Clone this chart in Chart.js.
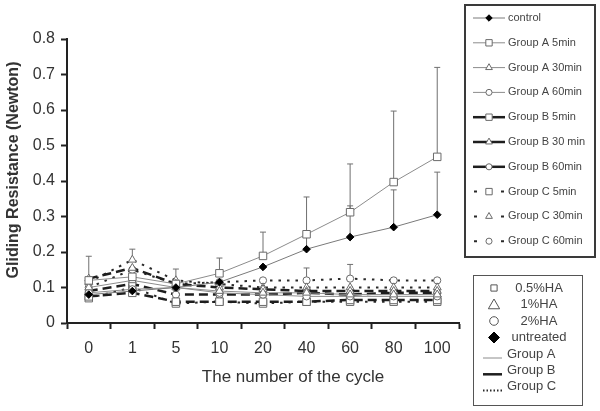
<!DOCTYPE html>
<html lang="en">
<head>
  <meta charset="UTF-8">
  <title>Gliding Resistance</title>
  <script src="https://cdn.jsdelivr.net/npm/chart.js"></script>
  <style>
    body { margin: 0; background: #fff; }
    #wrap { width: 600px; height: 411px; }
  </style>
</head>
<body>
<div id="wrap"><canvas id="chart" width="600" height="411"></canvas></div>
<script>
  // x categories (number of cycles)
  const cycles = ['0', '1', '5', '10', '20', '40', '60', '80', '100'];

  // series values (Newton)
  const control  = [0.080, 0.090, 0.100, 0.115, 0.158, 0.208, 0.242, 0.270, 0.305];
  const groupA5  = [0.120, 0.130, 0.110, 0.140, 0.189, 0.250, 0.312, 0.397, 0.468];
  const groupA30 = [0.100, 0.120, 0.100, 0.090, 0.085, 0.085, 0.080, 0.080, 0.080];
  const groupA60 = [0.085, 0.095, 0.100, 0.085, 0.080, 0.075, 0.075, 0.075, 0.075];
  const groupB5  = [0.075, 0.085, 0.060, 0.060, 0.060, 0.060, 0.065, 0.065, 0.065];
  const groupB30 = [0.125, 0.155, 0.110, 0.100, 0.095, 0.090, 0.090, 0.090, 0.090];
  const groupB60 = [0.090, 0.110, 0.080, 0.080, 0.080, 0.085, 0.080, 0.085, 0.085];
  const groupC5  = [0.070, 0.100, 0.055, 0.060, 0.055, 0.060, 0.060, 0.060, 0.060];
  const groupC30 = [0.115, 0.178, 0.120, 0.110, 0.100, 0.100, 0.100, 0.100, 0.100];
  const groupC60 = [0.100, 0.150, 0.110, 0.115, 0.120, 0.120, 0.125, 0.120, 0.120];

  // upper error bars (SD)
  const controlErr  = [0, 0, 0, 0, 0, 0.050, 0.088, 0.105, 0.120];
  const groupA5Err  = [0.068, 0, 0, 0.043, 0.067, 0.105, 0.136, 0.200, 0.252];
  const groupC30Err = [0, 0.030, 0.032, 0, 0, 0, 0, 0, 0];
  const groupC60Err = [0, 0, 0, 0, 0, 0.035, 0.040, 0, 0];

  const seriesNames = ['control', 'Group A 5min', 'Group A 30min', 'Group A 60min',
    'Group B 5min', 'Group B 30 min', 'Group B 60min',
    'Group C 5min', 'Group C 30min', 'Group C 60min'];

  // second legend
  const haLabels = ['0.5%HA', '1%HA', '2%HA', 'untreated'];
  const haMarkers = ['rect', 'triangle', 'circle', 'rectRot'];
  const groupLabels = ['Group A', 'Group B', 'Group C'];

  const FONT = 'Arial, "Liberation Sans", sans-serif';
  Chart.defaults.font.family = FONT;

  const lineStyle = {
    ctrl: { borderColor: '#7a7a7a', borderWidth: 1, borderDash: [] },
    A: { borderColor: '#8c8c8c', borderWidth: 1, borderDash: [] },
    B: { borderColor: '#1e1e1e', borderWidth: 2.5, borderDash: [9, 5] },
    C: { borderColor: '#2a2a2a', borderWidth: 2, borderDash: [2.5, 6] }
  };
  const markerRadius = { rect: 5.3, triangle: 4.6, circle: 3.6, rectRot: 3.8 };

  function series(i, data, group, shape, err) {
    const st = lineStyle[group];
    return {
      label: seriesNames[i],
      group: group,
      data: data,
      err: err,
      borderColor: st.borderColor,
      borderWidth: st.borderWidth,
      borderDash: st.borderDash,
      pointStyle: shape,
      pointRadius: markerRadius[shape],
      pointBackgroundColor: shape === 'rectRot' ? '#000' : '#fff',
      pointBorderColor: shape === 'rectRot' ? '#000' : '#6a6a6a',
      pointBorderWidth: 1,
      tension: 0,
      fill: false
    };
  }

  function drawMarker(ctx, shape, x, y, r, fill, stroke) {
    ctx.beginPath();
    if (shape === 'rect') {
      const s = r * Math.SQRT1_2;
      ctx.rect(x - s, y - s, 2 * s, 2 * s);
    } else if (shape === 'rectRot') {
      ctx.moveTo(x, y - r); ctx.lineTo(x + r, y); ctx.lineTo(x, y + r); ctx.lineTo(x - r, y);
      ctx.closePath();
    } else if (shape === 'triangle') {
      let a = 0;
      ctx.moveTo(x + Math.sin(a) * r, y - Math.cos(a) * r);
      a += 2 * Math.PI / 3;
      ctx.lineTo(x + Math.sin(a) * r, y - Math.cos(a) * r);
      a += 2 * Math.PI / 3;
      ctx.lineTo(x + Math.sin(a) * r, y - Math.cos(a) * r);
      ctx.closePath();
    } else {
      ctx.arc(x, y, r, 0, Math.PI * 2);
    }
    ctx.fillStyle = fill; ctx.fill();
    ctx.strokeStyle = stroke; ctx.lineWidth = 1; ctx.setLineDash([]); ctx.stroke();
  }

  const errorBars = {
    id: 'errorBars',
    beforeDatasetsDraw(chart) {
      const ctx = chart.ctx, y = chart.scales.y;
      ctx.save();
      ctx.strokeStyle = '#707070';
      ctx.lineWidth = 1;
      chart.data.datasets.forEach((ds, i) => {
        if (!ds.err) return;
        const meta = chart.getDatasetMeta(i);
        ds.err.forEach((e, j) => {
          if (!e) return;
          const p = meta.data[j];
          const top = y.getPixelForValue(ds.data[j] + e);
          ctx.beginPath();
          ctx.moveTo(p.x, p.y); ctx.lineTo(p.x, top);
          ctx.moveTo(p.x - 3, top); ctx.lineTo(p.x + 3, top);
          ctx.stroke();
        });
      });
      ctx.restore();
    }
  };

  const extras = {
    id: 'extras',
    afterDraw(chart) {
      const ctx = chart.ctx, area = chart.chartArea;
      ctx.save();

      // axis titles
      ctx.fillStyle = '#333';
      ctx.textAlign = 'center';
      ctx.textBaseline = 'middle';
      ctx.font = '17px ' + FONT;
      ctx.fillText('The number of the cycle', (area.left + area.right) / 2 + 30, 377);
      ctx.save();
      ctx.translate(14, (area.top + area.bottom) / 2 - 11);
      ctx.rotate(-Math.PI / 2);
      ctx.font = 'bold 16px ' + FONT;
      ctx.fillText('Gliding Resistance (Newton)', 0, 0);
      ctx.restore();

      // legend 1: series
      ctx.strokeStyle = '#3a3a3a';
      ctx.lineWidth = 2;
      ctx.strokeRect(465, 5, 130, 252);
      ctx.font = '11px ' + FONT;
      ctx.textAlign = 'left';
      chart.data.datasets.forEach((ds, i) => {
        const cy = 18 + i * 24.8;
        ctx.strokeStyle = ds.borderColor;
        ctx.lineWidth = ds.borderWidth;
        ctx.setLineDash([]);
        ctx.beginPath();
        if (ds.group === 'C') {
          ctx.moveTo(474, cy); ctx.lineTo(477, cy);
          ctx.moveTo(501, cy); ctx.lineTo(504, cy);
        } else {
          ctx.moveTo(473, cy); ctx.lineTo(505, cy);
        }
        ctx.stroke();
        drawMarker(ctx, ds.pointStyle, 489, cy, ds.pointRadius * 0.85, ds.pointBackgroundColor, ds.pointBorderColor);
        ctx.fillStyle = '#444';
        ctx.fillText(ds.label, 508, cy);
      });

      // legend 2: markers and line types
      ctx.setLineDash([]);
      ctx.strokeStyle = '#555';
      ctx.lineWidth = 1;
      ctx.strokeRect(473.5, 275.5, 109, 130);
      ctx.font = '13px ' + FONT;
      ctx.textAlign = 'center';
      haLabels.forEach((lab, i) => {
        const cy = 288 + i * 16.5;
        const shape = haMarkers[i];
        const filled = shape === 'rectRot';
        const r = { rect: 4.4, triangle: 6.5, circle: 4.3, rectRot: 5.5 }[shape];
        drawMarker(ctx, shape, 494, cy + (shape === 'triangle' ? 1 : 0), r,
          filled ? '#000' : '#fff', filled ? '#000' : '#555');
        ctx.fillStyle = '#444';
        ctx.fillText(lab, 539, cy);
      });
      const grpStyles = [lineStyle.A, lineStyle.B, lineStyle.C];
      ctx.textAlign = 'left';
      groupLabels.forEach((lab, i) => {
        const cy = 354 + i * 16.3;
        const st = grpStyles[i];
        ctx.strokeStyle = st.borderColor;
        ctx.lineWidth = st.borderWidth;
        ctx.setLineDash(i === 2 ? [1.5, 2] : []);
        ctx.beginPath(); ctx.moveTo(483, cy + 4); ctx.lineTo(502, cy + 4); ctx.stroke();
        ctx.fillStyle = '#444';
        ctx.fillText(lab, 507, cy);
      });
      ctx.restore();
    }
  };

  new Chart(document.getElementById('chart'), {
    type: 'line',
    data: {
      labels: cycles,
      datasets: [
        series(0, control, 'ctrl', 'rectRot', controlErr),
        series(1, groupA5, 'A', 'rect', groupA5Err),
        series(2, groupA30, 'A', 'triangle'),
        series(3, groupA60, 'A', 'circle'),
        series(4, groupB5, 'B', 'rect'),
        series(5, groupB30, 'B', 'triangle'),
        series(6, groupB60, 'B', 'circle'),
        series(7, groupC5, 'C', 'rect'),
        series(8, groupC30, 'C', 'triangle', groupC30Err),
        series(9, groupC60, 'C', 'circle', groupC60Err)
      ]
    },
    options: {
      responsive: false,
      animation: false,
      layout: { padding: { top: 39, right: 141, left: 0, bottom: 0 } },
      plugins: { legend: { display: false }, tooltip: { enabled: false } },
      scales: {
        x: {
          offset: true,
          grid: { offset: true, drawOnChartArea: false, tickLength: 6, tickWidth: 2, color: '#222' },
          border: { color: '#222', width: 2 },
          ticks: { color: '#333', font: { size: 16 }, padding: 10, maxRotation: 0 },
          afterFit(scale) { scale.height = 88; }
        },
        y: {
          min: 0,
          max: 0.8,
          ticks: { stepSize: 0.1, color: '#333', font: { size: 16 }, padding: 6 },
          grid: { drawOnChartArea: false, tickLength: 6, tickWidth: 2, color: '#222' },
          border: { color: '#222', width: 2 },
          afterFit(scale) { scale.width = 67; }
        }
      }
    },
    plugins: [errorBars, extras]
  });
</script>
</body>
</html>
